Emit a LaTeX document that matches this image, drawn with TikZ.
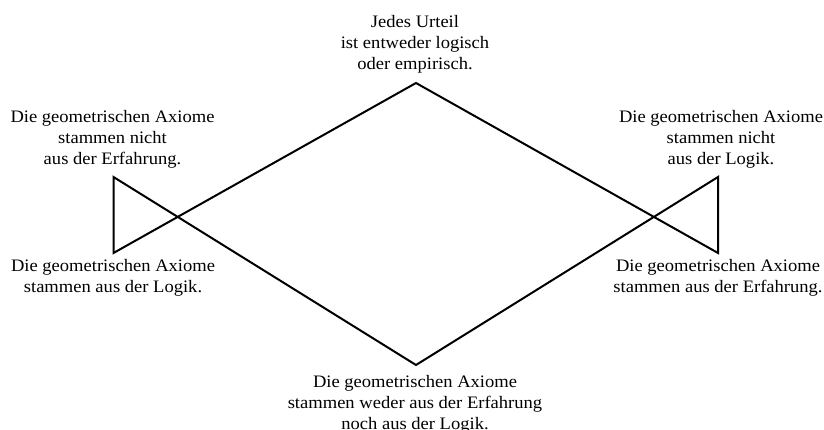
\documentclass[tikz,border=0pt]{standalone}
\usepackage{fontspec}
\setmainfont[FakeStretch=1.06]{Liberation Serif}
\begin{document}
\begin{tikzpicture}[x=1pt,y=1pt,
  lbl/.style={align=center,inner sep=0pt,font=\fontsize{17.5}{21}\selectfont},
  edge/.style={line width=2pt,line join=miter}]
\useasboundingbox (0,0) rectangle (824,430);
\coordinate (T) at (416,347);
\coordinate (B) at (416,65);
\coordinate (LT) at (113.5,253);
\coordinate (LB) at (113.5,177);
\coordinate (RT) at (718,253);
\coordinate (RB) at (718,177);
\draw[edge] (LB) -- (T) -- (RB) -- (RT) -- (B) -- (LT) -- cycle;
\node[lbl] (top) at (415,386) {Jedes Urteil\\ist entweder logisch\\oder empirisch.};
\node[lbl] (lt) at (112.5,291) {Die geometrischen Axiome\\stammen nicht\\aus der Erfahrung.};
\node[lbl] (rt) at (721,291) {Die geometrischen Axiome\\stammen nicht\\aus der Logik.};
\node[lbl] (lb) at (113,152) {Die geometrischen Axiome\\stammen aus der Logik.};
\node[lbl] (rb) at (718,152) {Die geometrischen Axiome\\stammen aus der Erfahrung.};
\node[lbl] (bot) at (415,26) {Die geometrischen Axiome\\stammen weder aus der Erfahrung\\noch aus der Logik.};
\end{tikzpicture}
\end{document}
